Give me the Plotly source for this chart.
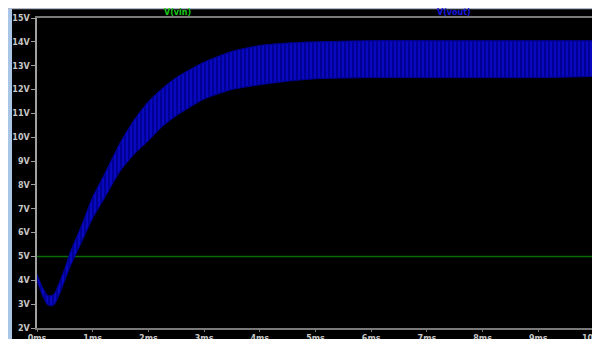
import plotly.graph_objects as go

# Time axis in milliseconds
t_ms = [0, 0.1, 0.2, 0.3, 0.4, 0.5, 0.6, 0.8, 1.0, 1.2, 1.5, 1.75, 2.0, 2.25, 2.5, 3.0, 3.5, 4.0, 4.5, 5.0, 6.0, 7.0, 8.0, 9.0, 10.0]
# V(vout) ripple envelope (volts)
vout_upper = [4.25, 3.7, 3.35, 3.4, 3.9, 4.5, 5.2, 6.3, 7.5, 8.4, 9.8, 10.75, 11.5, 12.05, 12.5, 13.15, 13.6, 13.85, 13.95, 14.0, 14.05, 14.05, 14.05, 14.05, 14.05]
vout_lower = [4.0, 3.35, 2.95, 2.95, 3.4, 4.0, 4.6, 5.6, 6.6, 7.4, 8.6, 9.3, 9.85, 10.45, 10.9, 11.6, 12.0, 12.2, 12.35, 12.45, 12.5, 12.5, 12.5, 12.5, 12.55]
# V(vin) is flat
vin_t = [0, 10]
vin_v = [5, 5]

x_ticks = list(range(0, 11))
x_ticklabels = [f"{v}ms" for v in x_ticks]
y_ticks = list(range(2, 16))
y_ticklabels = [f"{v}V" for v in y_ticks]

# the page body adds an 8px white margin at top/left
OFF = 8
W, H = 600 - OFF, 339 - OFF
ML, MR, MT, MB = 37 - OFF, 6, 18 - OFF, 11
PW, PH = W - ML - MR, H - MT - MB


def px(xp):
    # page pixel -> paper coordinate
    return (xp - OFF - ML) / PW


def py(yp):
    return (H - MB - (yp - OFF)) / PH


fig = go.Figure()

fig.add_trace(go.Scatter(x=vin_t, y=vin_v, mode="lines",
                         line=dict(color="#0a6a0a", width=1.5), name="V(vin)"))

fig.add_trace(go.Scatter(x=t_ms, y=vout_lower, mode="lines",
                         line=dict(color="#000090", width=1, shape="spline", smoothing=0.6),
                         name="V(vout) low", showlegend=False))
fig.add_trace(go.Scatter(x=t_ms, y=vout_upper, mode="lines",
                         line=dict(color="#000090", width=1, shape="spline", smoothing=0.6),
                         name="V(vout)",
                         fill="tonexty", fillcolor="#0000a8",
                         fillpattern=dict(shape="|", bgcolor="#000094", fgcolor="#1414ff",
                                          size=4, solidity=0.4),
                         showlegend=False))

font_tick = dict(family="DejaVu Sans", size=8, color="#c8c8c8", weight="bold")

fig.update_layout(
    width=W, height=H,
    margin=dict(l=ML, r=MR, t=MT, b=MB, autoexpand=False),
    paper_bgcolor="#000000",
    plot_bgcolor="#000000",
    showlegend=False,
    xaxis=dict(range=[0, 10], tickvals=x_ticks, ticktext=x_ticklabels, automargin=False,
               showgrid=False, zeroline=False, showline=True, linecolor="#7a7a7a",
               linewidth=1.5, mirror=True, ticks="outside", ticklen=2, tickcolor="#7a7a7a",
               tickfont=font_tick, ticklabeloverflow="allow"),
    yaxis=dict(range=[2, 15], tickvals=y_ticks, ticktext=y_ticklabels, automargin=False,
               showgrid=False, zeroline=False, showline=True, linecolor="#a0a0a0",
               linewidth=1.5, mirror=True, ticks="outside", ticklen=4, tickcolor="#a0a0a0",
               tickfont=font_tick, ticklabeloverflow="allow"),
    shapes=[
        dict(type="line", xref="paper", yref="paper", x0=px(0), x1=px(620), y0=py(8.5), y1=py(8.5),
             line=dict(color="#b0b8c8", width=1.5), layer="above"),
        dict(type="rect", xref="paper", yref="paper", x0=px(6), x1=px(12), y0=py(350), y1=py(9),
             fillcolor="#a9c6e6", line=dict(width=0), layer="above"),
    ],
    annotations=[
        dict(text="V(vin)", xref="paper", yref="paper", x=px(177), y=py(12.5),
             xanchor="center", yanchor="middle", showarrow=False,
             font=dict(family="DejaVu Sans", size=8, color="#18c818", weight="bold")),
        dict(text="V(vout)", xref="paper", yref="paper", x=px(454), y=py(12.5),
             xanchor="center", yanchor="middle", showarrow=False,
             font=dict(family="DejaVu Sans", size=8, color="#1818e0", weight="bold")),
    ],
)

fig.write_html("out.html")
